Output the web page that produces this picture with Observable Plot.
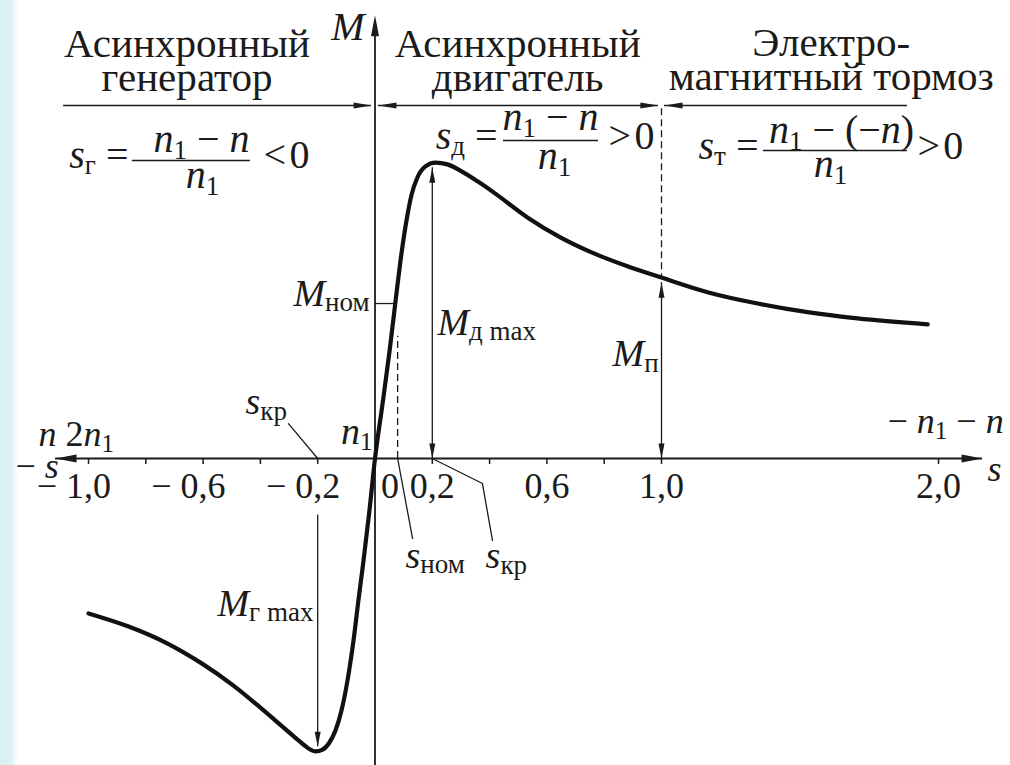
<!DOCTYPE html>
<html lang="ru">
<head>
<meta charset="utf-8">
<title>Механическая характеристика асинхронной машины</title>
<script src="https://cdn.jsdelivr.net/npm/d3@7"></script>
<script src="https://cdn.jsdelivr.net/npm/@observablehq/plot@0.6"></script>
<style>
  html, body { margin: 0; padding: 0; background: #ffffff; }
  #chart { width: 1010px; height: 765px; }
</style>
</head>
<body>
<div id="chart"></div>
<script>
// Torque–slip characteristic M(s) of an induction machine (relative units)
const slip = [
  -1.000, -0.860, -0.724, -0.609, -0.494, -0.400, -0.319, -0.267, -0.232, -0.207,
  -0.183, -0.159, -0.138, -0.117, -0.096, -0.075, -0.058, -0.040, -0.019, 0.000,
  0.026, 0.051, 0.072, 0.092, 0.110, 0.127, 0.148, 0.176, 0.211, 0.253,
  0.298, 0.358, 0.414, 0.532, 0.647, 0.762, 0.881, 1.000, 1.166, 1.347,
  1.527, 1.708, 1.961
];
const torque = [
  -0.520, -0.564, -0.621, -0.685, -0.762, -0.836, -0.903, -0.946, -0.973, -0.983,
  -0.977, -0.953, -0.913, -0.846, -0.745, -0.611, -0.477, -0.342, -0.171, 0.000,
  0.181, 0.362, 0.530, 0.685, 0.799, 0.883, 0.943, 0.980, 0.993, 0.987,
  0.966, 0.930, 0.893, 0.809, 0.742, 0.689, 0.645, 0.607, 0.558, 0.520,
  0.491, 0.470, 0.450
];

// Slip axis ticks and their labels
const tickSlips = [-1, -0.8, -0.6, -0.4, -0.2, 0.2, 0.4, 0.6, 0.8, 1, 2];
const labelSlips = [-1, -0.6, -0.2, 0, 0.2, 0.6, 1, 2];
const labelTexts = ["−1,0", "−0,6", "−0,2", "0", "0,2", "0,6", "1,0", "2,0"];

// Characteristic points
const sCritMotor = 0.2;    // s_кр, motor mode
const sCritGen = -0.2;     // s_кр, generator mode
const sNom = 0.079;        // s_ном
const mNom = 0.52;         // M_ном
const mStart = 0.607;      // M_п at s = 1
const mMaxMotor = 0.993;   // M_д max
const mMaxGen = -0.983;    // M_г max

// Operating-mode headings (two lines each, anchored at the second baseline)
const modeHeadings = [
  {s: -0.656, M: 1.232, t: "Асинхронный\nгенератор"},
  {s: 0.498, M: 1.232, t: "Асинхронный\nдвигатель"},
  {s: 1.613, M: 1.235, t: "Электро-\nмагнитный тормоз"}
];

const INK = "#1b1b1b";
const FONT = "'Liberation Serif', 'DejaVu Serif', serif";
const HEADING_WIDTH = 246;   // printed width of "Асинхронный", px
const HEADING_LEADING = 34;  // distance between heading baselines, px

const data = slip.map((s, i) => ({s, M: torque[i]}));

// ---- rich text: runs of italic / upright / subscript pieces laid out side by side
const ctx = document.createElement("canvas").getContext("2d");
function widthOf(r) {
  ctx.font = `${r.i ? "italic " : ""}${r.z}px ${FONT}`;
  return ctx.measureText(r.t).width;
}
const it = (t, z = 40) => ({t, z, i: true});
const up = (t, z = 40) => ({t, z, i: false});
const sub = (t, z = 27, b = 6) => ({t, z, i: false, b});

function rich(x, y, runs, anchor = "start") {
  const w = runs.map(widthOf);
  const total = d3.sum(w);
  let off = anchor === "middle" ? -total / 2 : anchor === "end" ? -total : 0;
  return runs.map((r, k) => {
    const m = Plot.text([{x, y, t: r.t}], {
      x: "x", y: "y", text: "t",
      dx: off, dy: r.b || 0,
      fontSize: r.z, fontStyle: r.i ? "italic" : "normal", fontFamily: FONT,
      textAnchor: "start", lineAnchor: "bottom", fill: INK
    });
    off += w[k];
    return m;
  });
}

// fraction: numerator / bar / denominator
function fraction(barM, barS1, barS2, numS, numM, numRuns, denS, denM, denRuns) {
  return [
    Plot.ruleY([{y: barM, x1: barS1, x2: barS2}], {y: "y", x1: "x1", x2: "x2", stroke: INK, strokeWidth: 1.4}),
    ...rich(numS, numM, numRuns, "middle"),
    ...rich(denS, denM, denRuns, "middle")
  ];
}

// ---- filled arrowheads as custom symbols (tip at the anchor point)
function head(dir, len, hw) {
  return {
    draw(c) {
      const p = {
        up: [[0, 0], [-hw, len], [hw, len]],
        down: [[0, 0], [-hw, -len], [hw, -len]],
        left: [[0, 0], [len, -hw], [len, hw]],
        right: [[0, 0], [-len, -hw], [-len, hw]]
      }[dir];
      c.moveTo(...p[0]); c.lineTo(...p[1]); c.lineTo(...p[2]); c.closePath();
    }
  };
}
const heads = (pts, dir, len = 15, hw = 3) =>
  Plot.dot(pts, {x: "s", y: "M", symbol: head(dir, len, hw), fill: INK, stroke: "none"});

const thin = {stroke: INK, strokeWidth: 1.3};
const dashed = {stroke: INK, strokeWidth: 1.3, strokeDasharray: "7,4"};

const headingSize = Math.max(34, Math.min(44, 40 * HEADING_WIDTH / widthOf(up("Асинхронный", 40))));
const minusShift = -(widthOf(up("0,6", 36)) / 2 + 9);

const nFrac = [it("n"), sub("1", 27, 7), up(" − "), it("n")];
const n1 = [it("n"), sub("1", 27, 7)];
const tickLabels = labelSlips.map((s, i) => ({s, t: labelTexts[i]}));

const chart = Plot.plot({
  width: 1010,
  height: 765,
  // the slip axis of the drawing is slightly compressed beyond s = 1
  x: {type: "linear", domain: [-1, 1, 2], range: [88, 661, 938], axis: null},
  y: {type: "linear", domain: [0, 1], range: [458, 160], axis: null},
  marks: [
    // slip axis with arrows at both ends
    Plot.ruleY([0], {x1: -1.115, x2: 2.159, stroke: INK, strokeWidth: 1.8}),
    heads([{s: -1.115, M: 0}], "left", 21, 4),
    heads([{s: 2.159, M: 0}], "right", 21, 4),
    Plot.ruleX(tickSlips, {y1: 0, y2: -0.02, stroke: INK, strokeWidth: 1.5}),

    // torque axis
    Plot.ruleX([0], {y1: -1.1, y2: 1.45, stroke: INK, strokeWidth: 1.8}),
    heads([{s: 0, M: 1.487}], "up", 21, 4),

    // mode separator line with arrows
    Plot.ruleY([1.1846], {x1: -1.087, x2: -0.012, ...thin}),
    Plot.ruleY([1.1846], {x1: 0.012, x2: 0.989, ...thin}),
    Plot.ruleY([1.1846], {x1: 1.011, x2: 1.888, ...thin}),
    heads([{s: -0.012, M: 1.1846}, {s: 0.989, M: 1.1846}], "right", 18, 3),
    heads([{s: 0.012, M: 1.1846}, {s: 1.011, M: 1.1846}], "left", 18, 3),

    // mode headings
    Plot.text(modeHeadings, {
      x: "s", y: "M", text: "t", fontSize: headingSize, lineHeight: HEADING_LEADING / headingSize,
      fontFamily: FONT, textAnchor: "middle", lineAnchor: "bottom", fill: INK
    }),

    // s = 1 boundary and nominal slip
    Plot.ruleX([1], {y1: 1.174, y2: mStart, ...dashed}),
    Plot.ruleX([sNom], {y1: 0, y2: 0.41, ...dashed}),

    // M_ном tick
    Plot.ruleY([mNom], {x1: 0, x2: 0.07, ...thin}),

    // M_д max
    Plot.ruleX([sCritMotor], {y1: 0, y2: mMaxMotor - 0.017, ...thin}),
    heads([{s: sCritMotor, M: mMaxMotor - 0.017}], "up"),
    heads([{s: sCritMotor, M: 0}], "down"),

    // M_п
    Plot.ruleX([1], {y1: 0, y2: mStart - 0.017, ...thin}),
    heads([{s: 1, M: mStart - 0.017}], "up"),
    heads([{s: 1, M: 0}], "down"),

    // M_г max
    Plot.ruleX([sCritGen], {y1: -0.19, y2: mMaxGen + 0.016, ...thin}),
    heads([{s: sCritGen, M: mMaxGen + 0.016}], "down"),

    // leader lines
    Plot.line([{s: -0.302, M: 0.117}, {s: sCritGen, M: 0}], {x: "s", y: "M", ...thin}),
    Plot.line([{s: sNom, M: 0}, {s: 0.131, M: -0.268}], {x: "s", y: "M", ...thin}),
    Plot.line([{s: sCritMotor, M: 0}, {s: 0.375, M: -0.084}, {s: 0.410, M: -0.275}], {x: "s", y: "M", ...thin}),

    // characteristic
    Plot.line(data, {x: "s", y: "M", curve: "monotone-x", stroke: "#111", strokeWidth: 4.2, strokeLinecap: "round", strokeLinejoin: "round"}),

    // tick labels: digits centred on the tick, minus sign hanging to the left
    Plot.text(tickLabels.filter(d => d.s !== 0),
      {x: "s", y: () => -0.134, text: d => d.t.replace("−", ""), fontSize: 36, fontFamily: FONT, textAnchor: "middle", lineAnchor: "bottom", fill: INK}),
    Plot.text(tickLabels.filter(d => d.t.startsWith("−")),
      {x: "s", y: () => -0.134, text: () => "−", dx: minusShift, fontSize: 36, fontFamily: FONT, textAnchor: "end", lineAnchor: "bottom", fill: INK}),
    Plot.text(tickLabels.filter(d => d.s === 0),
      {x: "s", y: () => -0.134, text: "t", dx: 6, fontSize: 36, fontFamily: FONT, textAnchor: "start", lineAnchor: "bottom", fill: INK}),

    // axis captions
    ...rich(-0.0366, 1.403, [it("M", 40)], "end"),
    ...rich(-1.1745, 0.0436, [it("n", 36), up(" 2", 36), it("n", 36), sub("1", 25, 6)]),
    ...rich(-1.255, -0.067, [up("− ", 36), it("s", 36)]),
    ...rich(1.816, 0.084, [up("− ", 36), it("n", 36), sub("1", 25, 6), up(" − ", 36), it("n", 36)]),
    ...rich(2.177, -0.074, [it("s", 36)]),

    // point labels
    ...rich(-0.009, 0.050, [it("n", 38), sub("1", 25, 6)], "end"),
    ...rich(-0.019, 0.513, [it("M", 38), sub("ном", 27, 5)], "end"),
    ...rich(0.218, 0.413, [it("M", 38), sub("д max", 27, 5)]),
    ...rich(0.829, 0.312, [it("M", 38), sub("п", 27, 6)]),
    ...rich(-0.550, -0.527, [it("M", 38), sub("г max", 27, 5)]),
    ...rich(-0.452, 0.151, [it("s", 38), sub("кр", 27, 6)]),
    ...rich(0.1065, -0.366, [it("s", 38), sub("ном", 27, 5)]),
    ...rich(0.386, -0.366, [it("s", 38), sub("кр", 27, 6)]),

    // slip formulas of the three modes
    ...rich(-0.8604, 0.9765, [it("s"), sub("г", 27, 6), up(" =")], "end"),
    ...fraction(1.0, -0.847, -0.435, -0.6056, 1.027, nFrac, -0.602, 0.909, n1),
    ...rich(-0.389, 0.9765, [up("<\u200A0")]),

    ...rich(0.4276, 1.037, [it("s"), sub("д", 27, 6), up(" =")], "end"),
    ...fraction(1.067, 0.4485, 0.7801, 0.6126, 1.1007, nFrac, 0.6265, 0.973, n1),
    ...rich(0.815, 1.037, [up(">\u200A0")]),

    ...rich(1.350, 1.0034, [it("s"), sub("т", 27, 6), up(" =")], "end"),
    ...fraction(1.0336, 1.368, 1.888, 1.650, 1.060,
      [it("n"), sub("1", 27, 7), up(" − ("), up("−"), it("n"), up(")")], 1.610, 0.943, n1),
    ...rich(1.924, 1.0034, [up(">\u200A0")])
  ]
});

// pale tinted strip along the left edge of the sheet
chart.style.background = "linear-gradient(to right, #d9f0f3 0px, #ddf2f5 11px, #ffffff 18px)";
document.getElementById("chart").append(chart);
</script>
</body>
</html>
